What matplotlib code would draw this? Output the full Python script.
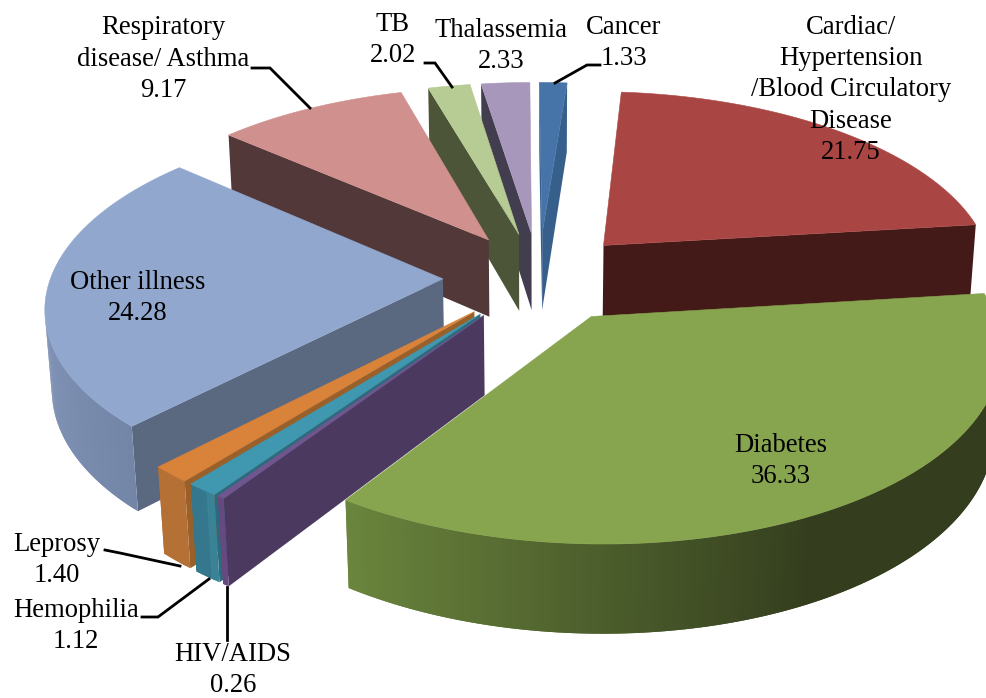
import numpy as np
import matplotlib
matplotlib.use("Agg")
import matplotlib.pyplot as plt
from matplotlib.colors import to_rgb
from matplotlib.patches import Polygon

categories = ["Cancer", "Cardiac", "Diabetes", "HIV/AIDS", "Hemophilia", "Leprosy",
              "Other illness", "Respiratory", "TB", "Thalassemia"]
values = [1.33, 21.75, 36.33, 0.26, 1.12, 1.40, 24.28, 9.17, 2.02, 2.33]
label_texts = ["Cancer\n1.33", "Cardiac/\nHypertension\n/Blood Circulatory\nDisease\n21.75",
               "Diabetes\n36.33", "HIV/AIDS\n0.26", "Hemophilia\n1.12", "Leprosy\n1.40",
               "Other illness\n24.28", "Respiratory\ndisease/ Asthma\n9.17", "TB\n2.02",
               "Thalassemia\n2.33"]

# styles
top_colors = ["#4674A8", "#A94644", "#87A44E", "#70558F", "#3F97B0", "#D9823A",
              "#91A7CE", "#CF908E", "#B7CB94", "#A797BB"]
face_colors = ["#375F8C", "#441A18", "#4A5E2A", "#4B3960", "#2C6B7E", "#99602A",
               "#5A6980", "#523838", "#4C5537", "#433D50"]
wall_light = ["#3E6A9C", "#6A2B2A", "#6A853D", "#65497F", "#3A8296", "#BB7436",
              "#8799BC", "#8C5E5E", "#8CA06C", "#7E7292"]
wall_dark = ["#375F8C", "#441A18", "#343E1E", "#65497F", "#35788D", "#B57035",
             "#7486A8", "#523838", "#4C5537", "#433D50"]

# projection of the 3D pie
CX, CY, F, FA, K, H, TILT, SHEAR, EXPLODE = 539.0, 277.0, 392.0, 183.5, 0.14, 79.5, 0.014, -3.0, 0.245


def project(X, Y, Z=0.0):
    w = 1 + K * Y + TILT * Z
    return CX + (F * X + SHEAR * Y) / w, CY + (H * Z - FA * Y) / w


def area(poly):
    x, y = np.asarray(poly).T
    return 0.5 * np.sum(x * np.roll(y, -1) - y * np.roll(x, -1))


fig = plt.figure(figsize=(9.87, 6.98), dpi=100)
ax = fig.add_axes([0, 0, 1, 1])
ax.set_xlim(0, 987)
ax.set_ylim(698, 0)
ax.axis("off")

shares = np.array(values) / np.sum(values) * 360.0
ends = np.cumsum(shares)
starts = ends - shares
mids = np.radians((starts + ends) / 2)
order = np.argsort(-np.cos(mids))


def add_quad(p, color, z):
    ax.add_patch(Polygon(p, closed=True, facecolor=color, edgecolor="none", lw=0, zorder=z))


for rank, i in enumerate(order):
    z = 2 + rank
    ax_, ay_ = EXPLODE * np.sin(mids[i]), EXPLODE * np.cos(mids[i])
    th = np.radians(np.linspace(starts[i], ends[i], max(int(shares[i] * 1.5), 3) + 1))
    xs, ys = ax_ + np.sin(th), ay_ + np.cos(th)

    # cut faces
    for j, rev in ((0, False), (-1, True)):
        a = [project(ax_, ay_, 0), project(xs[j], ys[j], 0), project(xs[j], ys[j], 1), project(ax_, ay_, 1)]
        s = area(a)
        if (s < 0) != rev:
            add_quad(a, face_colors[i], z)

    # outer wall, shaded along the rim; each strip overlaps the next to hide seams
    light, dark = np.array(to_rgb(wall_light[i])), np.array(to_rgb(wall_dark[i]))
    last = len(th) - 1
    for n in range(last):
        m = min(n + 2, last)
        q = [project(xs[n], ys[n], 0), project(xs[m], ys[m], 0),
             project(xs[m], ys[m], 1), project(xs[n], ys[n], 1)]
        if area(q) > 0:
            continue
        deg = np.degrees(th[n])
        if deg >= 216:
            t = np.clip((270 - deg) / 46, 0, 1)
        else:
            t = np.clip((213 - deg) / 60, 0, 1)
        add_quad(q, light + (dark - light) * t, z)

    # top surface
    top = [project(ax_, ay_)] + [project(x, y) for x, y in zip(xs, ys)]
    ax.add_patch(Polygon(top, closed=True, facecolor=top_colors[i], edgecolor=top_colors[i], lw=0.4, zorder=z + 0.5))

# labels
font = dict(family="Liberation Serif", fontsize=19.2, color="black", ha="center", va="center",
            linespacing=1.33, zorder=40)
label_pos = [(624, 43), (851, 90), (781, 461), (233, 670), (76, 626), (57, 560),
             (138, 298), (163, 59), (393, 40), (501, 46)]
for text, (x, y) in zip(label_texts, label_pos):
    ax.text(x, y, text, **font)

leaders = [[(555, 83), (587, 65), (600, 65)],
           [(310, 108), (270, 68), (252, 68)],
           [(452, 87), (435, 63), (425, 63)],
           [(180, 566), (120, 553), (105, 550)],
           [(209, 579), (158, 617), (142, 617)],
           [(227, 587), (227, 640)]]
for seg in leaders:
    x, y = zip(*seg)
    ax.plot(x, y, color="black", lw=2.0, zorder=30, solid_joinstyle="miter")

fig.savefig("out.png", dpi=100, facecolor="white")
